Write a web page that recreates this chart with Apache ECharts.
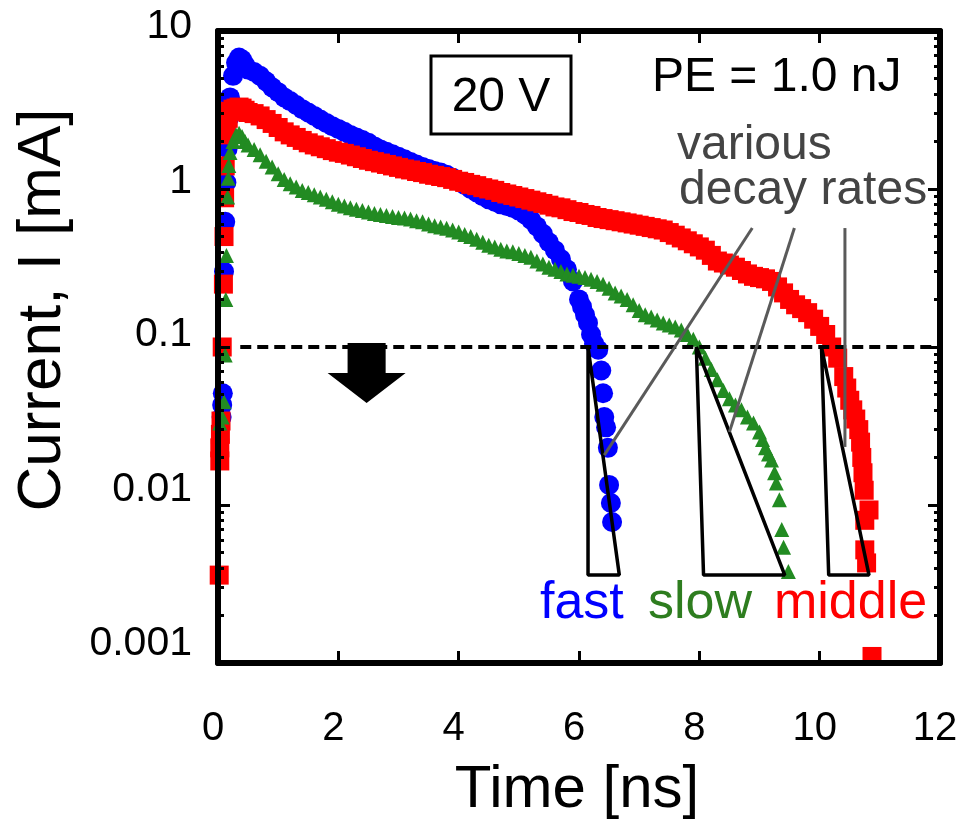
<!DOCTYPE html>
<html><head><meta charset="utf-8">
<script src="https://cdn.jsdelivr.net/npm/echarts@6/dist/echarts.min.js"></script>
<style>html,body{margin:0;padding:0;background:#fff}#c{width:967px;height:823px}</style>
</head><body><div id="c"></div>
<script>
// ---- data ----
const xTickLabels = [0, 2, 4, 6, 8, 10, 12];
const yMajorTicks = [0.001, 0.01, 0.1, 1, 10];
const yMinorTicks = [0.002,0.003,0.004,0.005,0.006,0.007,0.008,0.009,
  0.02,0.03,0.04,0.05,0.06,0.07,0.08,0.09,
  0.2,0.3,0.4,0.5,0.6,0.7,0.8,0.9,
  2,3,4,5,6,7,8,9];

// fast (blue circles): [time ns, current mA]
const fastData = [
  [0.06,0.036],[0.07,0.043],[0.08,0.051],[0.1,0.30],[0.12,0.62],[0.14,1.1],[0.16,1.8],[0.18,2.8],[0.2,3.8],
  [0.25,5.2],[0.3,6.3],[0.35,6.8],[0.4,6.6],[0.45,6.1],[0.5,5.7],[0.6,5.5],[0.7,5.2],[0.8,4.8],[0.9,4.4],[1.0,4.1],
  [1.1,3.8],[1.2,3.6],[1.3,3.4],[1.4,3.2],[1.5,3.05],[1.6,2.9],[1.7,2.75],[1.8,2.62],[1.9,2.5],[2.0,2.4],
  [2.1,2.3],[2.2,2.2],[2.3,2.12],[2.4,2.04],[2.5,1.96],[2.6,1.86],[2.7,1.78],[2.8,1.72],[2.9,1.66],[3.0,1.6],
  [3.1,1.54],[3.2,1.48],[3.3,1.43],[3.4,1.38],[3.5,1.34],[3.6,1.30],[3.7,1.27],[3.8,1.23],[3.9,1.18],[4.0,1.12],
  [4.1,1.06],[4.2,1.0],[4.3,0.95],[4.4,0.9],[4.5,0.86],[4.6,0.83],[4.7,0.8],[4.8,0.78],[4.9,0.76],[5.0,0.73],
  [5.1,0.69],[5.2,0.64],[5.3,0.58],[5.4,0.52],[5.5,0.46],[5.6,0.41],[5.7,0.36],[5.8,0.31],[5.9,0.26],[6.0,0.2],
  [6.05,0.18],[6.1,0.16],[6.15,0.142],[6.2,0.12],[6.25,0.105],
  [6.32,0.096],[6.37,0.071],[6.4,0.051],[6.42,0.036],[6.45,0.031],[6.48,0.023],[6.5,0.0134],[6.53,0.0103],[6.55,0.0078]
];

// middle (red squares)
const middleData = [
  [0.02,0.0036],[0.03,0.019],[0.03,0.023],[0.04,0.028],[0.05,0.034],[0.07,0.1],[0.09,0.25],[0.1,0.5],[0.11,0.88],
  [0.12,1.4],[0.14,2.2],[0.17,2.8],[0.2,3.1],[0.25,3.2],[0.3,3.25],[0.35,3.3],[0.4,3.25],[0.45,3.15],[0.5,3.05],
  [0.6,3.0],[0.7,2.9],[0.8,2.75],[0.9,2.6],[1.0,2.45],[1.1,2.3],[1.2,2.2],[1.3,2.12],[1.4,2.03],[1.5,1.96],
  [1.6,1.9],[1.7,1.85],[1.8,1.8],[1.9,1.75],[2.0,1.71],[2.1,1.68],[2.2,1.64],[2.3,1.6],[2.4,1.56],[2.5,1.52],
  [2.6,1.49],[2.7,1.46],[2.8,1.43],[2.9,1.4],[3.0,1.37],[3.1,1.34],[3.2,1.32],[3.3,1.29],[3.4,1.27],[3.5,1.24],
  [3.6,1.22],[3.7,1.2],[3.8,1.18],[3.9,1.15],[4.0,1.12],[4.1,1.1],[4.2,1.07],[4.3,1.05],[4.4,1.02],[4.5,1.0],
  [4.6,0.98],[4.7,0.95],[4.8,0.93],[4.9,0.91],[5.0,0.89],[5.1,0.87],[5.2,0.85],[5.3,0.83],[5.4,0.81],[5.5,0.79],
  [5.6,0.77],[5.7,0.76],[5.8,0.74],[5.9,0.72],[6.0,0.71],[6.1,0.69],[6.2,0.68],[6.3,0.66],[6.4,0.65],[6.5,0.64],
  [6.6,0.63],[6.7,0.62],[6.8,0.61],[6.9,0.6],[7.0,0.59],[7.1,0.58],[7.2,0.57],[7.3,0.56],[7.4,0.55],[7.5,0.53],
  [7.6,0.51],[7.7,0.49],[7.8,0.47],[7.9,0.45],[8.0,0.43],[8.1,0.41],[8.2,0.38],[8.3,0.35],[8.4,0.34],[8.5,0.33],
  [8.6,0.32],[8.7,0.305],[8.8,0.29],[8.9,0.28],[9.0,0.275],[9.1,0.27],[9.2,0.26],[9.3,0.24],[9.4,0.22],[9.5,0.2],
  [9.6,0.185],[9.7,0.175],[9.8,0.165],[9.9,0.15],[10.0,0.135],[10.1,0.12],[10.2,0.1],[10.3,0.085],[10.4,0.065],
  [10.45,0.055],[10.5,0.046],[10.55,0.04],[10.6,0.035],[10.65,0.03],[10.68,0.025],[10.7,0.02],[10.72,0.016],
  [10.74,0.0124],[10.82,0.0093],[10.75,0.008],[10.75,0.0052],[10.78,0.0043],[10.87,0.0011]
];

// slow (green triangles)
const slowData = [
  [0.03,0.033],[0.07,0.036],[0.1,0.045],[0.12,0.089],[0.13,0.2],[0.14,0.38],[0.16,0.89],[0.17,1.17],[0.18,1.41],
  [0.2,1.7],[0.25,2.0],[0.3,2.2],[0.35,2.25],[0.4,2.15],[0.45,2.0],[0.5,1.9],[0.6,1.78],[0.7,1.65],[0.8,1.5],
  [0.9,1.38],[1.0,1.25],[1.1,1.15],[1.2,1.08],[1.3,1.03],[1.4,0.98],[1.5,0.95],[1.6,0.92],[1.7,0.89],[1.8,0.86],
  [1.9,0.83],[2.0,0.8],[2.1,0.78],[2.2,0.76],[2.3,0.745],[2.4,0.73],[2.5,0.715],[2.6,0.7],[2.7,0.69],[2.8,0.68],
  [2.9,0.67],[3.0,0.66],[3.1,0.655],[3.2,0.645],[3.3,0.63],[3.4,0.62],[3.5,0.6],[3.6,0.585],[3.7,0.575],[3.8,0.565],
  [3.9,0.55],[4.0,0.535],[4.1,0.515],[4.2,0.5],[4.3,0.48],[4.4,0.46],[4.5,0.44],[4.6,0.43],[4.7,0.415],[4.8,0.405],
  [4.9,0.4],[5.0,0.39],[5.1,0.38],[5.2,0.37],[5.3,0.35],[5.4,0.335],[5.5,0.32],[5.6,0.31],[5.7,0.3],[5.8,0.29],
  [5.9,0.285],[6.0,0.28],[6.1,0.275],[6.2,0.268],[6.3,0.26],[6.4,0.25],[6.5,0.235],[6.6,0.22],[6.7,0.21],[6.8,0.2],
  [6.9,0.185],[7.0,0.17],[7.1,0.16],[7.2,0.155],[7.3,0.148],[7.4,0.142],[7.5,0.138],[7.6,0.134],[7.7,0.128],[7.8,0.12],
  [7.9,0.112],[8.0,0.1],[8.1,0.085],[8.2,0.072],[8.3,0.062],[8.4,0.053],[8.5,0.047],[8.6,0.043],[8.7,0.04],[8.8,0.036],
  [8.9,0.033],[9.0,0.029],[9.05,0.026],[9.1,0.023],[9.15,0.021],[9.2,0.0193],[9.25,0.016],[9.28,0.0138],[9.33,0.0108],
  [9.37,0.007],[9.4,0.0054],[9.48,0.0038]
];

// threshold line
const thresholdLine = [[0.37, 0.1], [12, 0.1]];
// decay-rate slope triangles
const triFast = [[6.15,0.1],[6.15,0.0036],[6.67,0.0036],[6.15,0.1]];
const triSlow = [[7.95,0.1],[8.07,0.0036],[9.42,0.0036],[7.95,0.1]];
const triMiddle = [[10.03,0.1],[10.15,0.0036],[10.82,0.0036],[10.03,0.1]];
// callout leader lines
const callout1 = [[8.88,0.566],[6.42,0.0207]];
const callout2 = [[9.58,0.566],[8.5,0.029]];
const callout3 = [[10.42,0.566],[10.42,0.0233]];
// downward arrow position
const arrowPoint = [[2.47, 0.0685]];

// ---- chart ----
const FONT = '"Liberation Sans", Arial, Helvetica, sans-serif';
const chart = echarts.init(document.getElementById('c'), null, {renderer: 'canvas'});
const labelKey = {'10': 'a', '1': 'b', '0.1': 'c', '0.01': 'd', '0.001': 'e'};
const fmtY = v => {
  const s = String(parseFloat(Number(v).toPrecision(2)));
  return '{' + (labelKey[s] || 'c') + '|' + s + '}';
};
const lblBase = {fontSize: 41, color: '#000', fontFamily: FONT};

function yAx(pos, minor) {
  return {
    type: 'log', logBase: 10, min: 0.001, max: 10, position: pos, z: 10,
    axisLine: {show: !minor, onZero: false, lineStyle: {color: '#000', width: 6}},
    axisTick: minor
      ? {show: true, inside: true, length: 6, lineStyle: {color: '#000', width: 3}, customValues: yMinorTicks}
      : {show: true, inside: true, length: 12, lineStyle: {color: '#000', width: 3}, customValues: yMajorTicks},
    axisLabel: (pos === 'left' && !minor)
      ? {show: true, fontSize: 41, color: '#000', fontFamily: FONT, margin: 26, verticalAlign: 'bottom',
         formatter: fmtY, customValues: yMajorTicks,
         rich: {
           a: Object.assign({lineHeight: 8}, lblBase),
           b: Object.assign({lineHeight: 14}, lblBase),
           c: Object.assign({lineHeight: 24}, lblBase),
           d: Object.assign({lineHeight: 30}, lblBase),
           e: Object.assign({lineHeight: 38}, lblBase)
         }}
      : {show: false},
    splitLine: {show: false}, minorTick: {show: false}
  };
}

function lineSeries(data, color, width, type) {
  return {
    type: 'line', data: data, symbol: 'none', silent: true, z: 6, clip: false,
    lineStyle: {color: color, width: width, type: type || 'solid', opacity: 1}, animation: false
  };
}

const option = {
  animation: false,
  grid: {left: 218, right: 27, top: 31, bottom: 160, containLabel: false, outerBoundsMode: 'none'},
  xAxis: [
    {type: 'value', min: 0, max: 12, interval: 2, position: 'bottom', z: 10,
     axisLine: {onZero: false, lineStyle: {color: '#000', width: 6}},
     axisTick: {inside: true, length: 12, lineStyle: {color: '#000', width: 3}},
     axisLabel: {fontSize: 40, color: '#000', fontFamily: FONT, margin: 46, padding: [0, 10, 0, 0],
       customValues: xTickLabels},
     splitLine: {show: false}},
    {type: 'value', min: 0, max: 12, interval: 2, position: 'top', z: 10,
     axisLine: {onZero: false, lineStyle: {color: '#000', width: 6}},
     axisTick: {inside: true, length: 12, lineStyle: {color: '#000', width: 3}},
     axisLabel: {show: false}, splitLine: {show: false}}
  ],
  yAxis: [yAx('left', false), yAx('left', true), yAx('right', false), yAx('right', true)],
  series: [
    {type: 'scatter', name: 'fast', data: fastData, symbol: 'circle', symbolSize: 20, clip: false, silent: true,
     itemStyle: {color: '#0000ff', opacity: 1}, z: 2},
    {type: 'scatter', name: 'middle', data: middleData, symbol: 'rect', symbolSize: 19, clip: false, silent: true,
     itemStyle: {color: '#ff0000', opacity: 1}, z: 3},
    {type: 'scatter', name: 'slow', data: slowData, symbol: 'triangle', symbolSize: 15, clip: false, silent: true,
     itemStyle: {color: '#228b22', opacity: 1}, z: 4},
    lineSeries(thresholdLine, '#000', 4, [11, 6]),
    lineSeries(triFast, '#000', 3.5),
    lineSeries(triSlow, '#000', 3.5),
    lineSeries(triMiddle, '#000', 3.5),
    lineSeries(callout1, '#5a5a5a', 3),
    lineSeries(callout2, '#5a5a5a', 3),
    lineSeries(callout3, '#5a5a5a', 3),
    {type: 'scatter', data: arrowPoint, silent: true, z: 7,
     symbol: 'path://M25.6,0 L74.4,0 L74.4,50 L100,50 L50,100 L0,50 L25.6,50 Z',
     symbolSize: [78, 60], symbolKeepAspect: false, itemStyle: {color: '#000', opacity: 1}}
  ],
  graphic: [
    {type: 'rect', shape: {x: 431, y: 56, width: 140, height: 78}, style: {fill: 'none', stroke: '#000', lineWidth: 3}, z: 20},
    {type: 'text', x: 501, y: 98, style: {text: '20 V', fontSize: 48, fontFamily: FONT, fill: '#000', align: 'center', verticalAlign: 'middle'}, z: 20},
    {type: 'text', x: 652, y: 78, style: {text: 'PE = 1.0 nJ', fontSize: 48, fontFamily: FONT, fill: '#000', align: 'left', verticalAlign: 'middle'}, z: 20},
    {type: 'text', x: 677, y: 146, style: {text: 'various', fontSize: 48, fontFamily: FONT, fill: '#444', align: 'left', verticalAlign: 'middle'}, z: 20},
    {type: 'text', x: 679, y: 191, style: {text: 'decay rates', fontSize: 48, fontFamily: FONT, fill: '#444', align: 'left', verticalAlign: 'middle'}, z: 20},
    {type: 'text', x: 540, y: 604, style: {text: 'fast', fontSize: 52, fontFamily: FONT, fill: '#0000ff', align: 'left', verticalAlign: 'middle'}, z: 20},
    {type: 'text', x: 648, y: 604, style: {text: 'slow', fontSize: 52, fontFamily: FONT, fill: '#2e7d1f', align: 'left', verticalAlign: 'middle'}, z: 20},
    {type: 'text', x: 774, y: 604, style: {text: 'middle', fontSize: 52, fontFamily: FONT, fill: '#ff0000', align: 'left', verticalAlign: 'middle'}, z: 20},
    {type: 'text', x: 577, y: 790, style: {text: 'Time [ns]', fontSize: 60, fontFamily: FONT, fill: '#000', align: 'center', verticalAlign: 'middle'}, z: 20},
    {type: 'text', x: 43, y: 310, rotation: Math.PI / 2, style: {text: 'Current, I [mA]', fontSize: 62, fontFamily: FONT, fill: '#000', align: 'center', verticalAlign: 'middle'}, z: 20}
  ]
};
chart.setOption(option);
</script>
</body></html>
